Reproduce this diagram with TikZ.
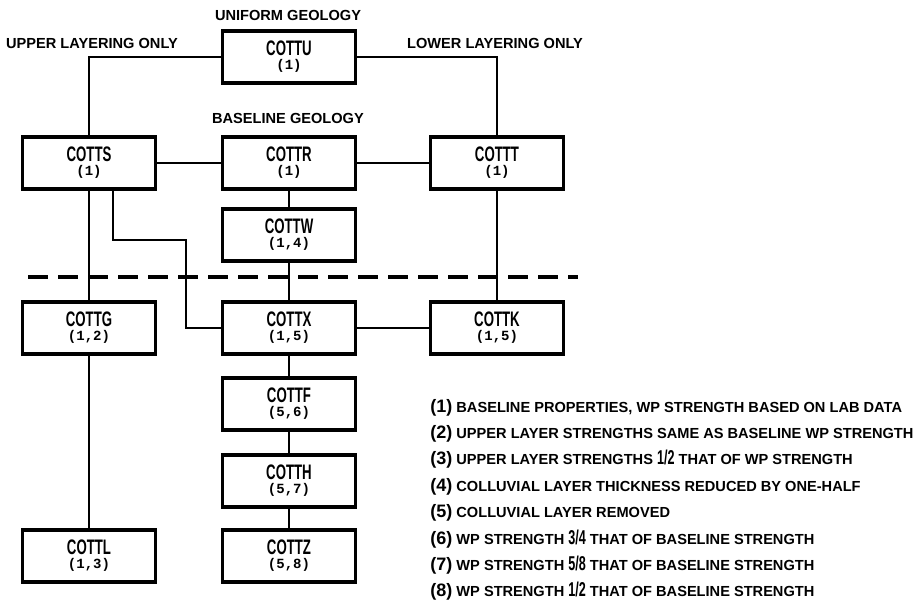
\documentclass[tikz,border=0pt]{standalone}
\usepackage{fontspec}
\newfontfamily\runfont{Liberation Sans}[FakeStretch=0.63]
\newfontfamily\casefont{Liberation Mono}
\newfontfamily\notefont{Liberation Sans}
\usetikzlibrary{positioning}
\newcommand{\bigfrac}[1]{{\runfont\bfseries\fontsize{10}{10}\selectfont #1}}

\begin{document}
\begin{tikzpicture}[x=0.5pt, y=-0.5pt,
  run/.style={draw, line width=1.8pt, minimum width=66.5pt, minimum height=26pt, inner sep=0pt, align=center, font=\runfont\bfseries\fontsize{10.5}{12}\selectfont},
  link/.style={line width=1.4pt},
  divider/.style={line width=2pt, dash pattern=on 10pt off 5pt},
  note/.style={font=\notefont\bfseries\fontsize{7.3}{8}\selectfont, inner sep=0pt},
  key/.style={note, anchor=base west}
]
\fill[white] (0,0) rectangle (918,605);
\useasboundingbox (0,0) rectangle (918,605);

% Runs
\foreach \nm/\x/\y/\case in {COTTU/289/57/{(1)}, COTTS/89/163/{(1)}, COTTR/289/163/{(1)},
    COTTT/497/163/{(1)}, COTTW/289/235/{(1,4)}, COTTG/89/328/{(1,2)}, COTTX/289/328/{(1,5)},
    COTTK/497/328/{(1,5)}, COTTF/289/404/{(5,6)}, COTTH/289/481/{(5,7)},
    COTTL/89/556/{(1,3)}, COTTZ/289/556/{(5,8)}}
  \node[run] (\nm) at (\x,\y) {\nm\\[-5pt]{\casefont\fontsize{7}{8}\selectfont\case}};

% Group labels
\node[note] (uniform)  at (288,15)  {UNIFORM GEOLOGY};
\node[note] (baseline) at (288,118) {BASELINE GEOLOGY};
\node[note] (upper)    at (92,43)   {UPPER LAYERING ONLY};
\node[note] (lower)    at (495,43)  {LOWER LAYERING ONLY};

% Connections
\draw[link] (COTTU.west) -| (COTTS.north);
\draw[link] (COTTU.east) -| (COTTT.north);
\draw[link] (COTTS) -- (COTTR);
\draw[link] (COTTR) -- (COTTT);
\draw[link] (COTTR) -- (COTTW);
\draw[link] (COTTW) -- (COTTX);
\draw[link] (COTTS) -- (COTTG);
\draw[link] (COTTG) -- (COTTL);
\draw[link] (COTTT) -- (COTTK);
\draw[link] (COTTX) -- (COTTK);
\draw[link] (COTTX) -- (COTTF);
\draw[link] (COTTF) -- (COTTH);
\draw[link] (COTTH) -- (COTTZ);
\coordinate (jogA) at (113,240);
\coordinate (jogB) at (186,240);
\draw[link] (jogA |- COTTS.south) -- (jogA) -- (jogB) |- (COTTX.west);

% Divider
\draw[divider] (28,277) -- (578,277);

% Key
\foreach \i/\txt in {1/{BASELINE PROPERTIES, WP STRENGTH BASED ON LAB DATA},
    2/{UPPER LAYER STRENGTHS SAME AS BASELINE WP STRENGTH},
    3/{UPPER LAYER STRENGTHS \bigfrac{1/2} THAT OF WP STRENGTH},
    4/{COLLUVIAL LAYER THICKNESS REDUCED BY ONE-HALF},
    5/{COLLUVIAL LAYER REMOVED},
    6/{WP STRENGTH \bigfrac{3/4} THAT OF BASELINE STRENGTH},
    7/{WP STRENGTH \bigfrac{5/8} THAT OF BASELINE STRENGTH},
    8/{WP STRENGTH \bigfrac{1/2} THAT OF BASELINE STRENGTH}}
  \node[key] (key\i) at (430, 385.6+26.4*\i) {{\fontsize{9}{9}\selectfont(\i)}\ \txt};
\end{tikzpicture}
\end{document}
